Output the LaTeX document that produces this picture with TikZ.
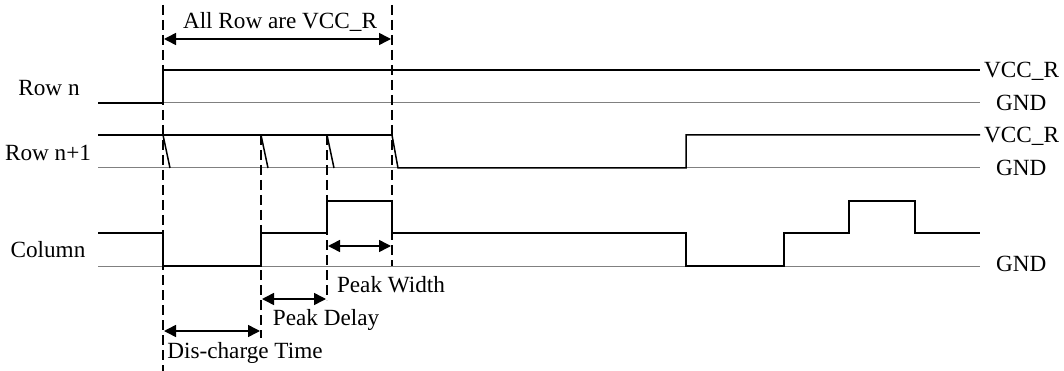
\documentclass[tikz,border=0pt]{standalone}
\usepackage{fontspec}
\setmainfont{Liberation Serif}
\usetikzlibrary{arrows.meta}
\begin{document}
\begin{tikzpicture}[x=1pt,y=-1pt,
  sig/.style={black,line width=1.5pt},
  gnd/.style={gray,line width=1pt},
  guide/.style={black,line width=2pt,dash pattern=on 10pt off 5pt},
  dim/.style={black,line width=1.5pt,{Triangle[length=12pt,width=12pt]}-{Triangle[length=12pt,width=12pt]}},
  lbl/.style={font=\fontsize{23.2}{26}\selectfont,inner sep=0pt}]
\useasboundingbox (0,0) rectangle (1064,371);
% GND reference lines
\draw[gnd] (163,103) -- (980,103);
\draw[gnd] (98,168) -- (980,168);
\draw[gnd] (98,266) -- (980,266);
% Row n
\draw[sig] (98,103) -- (163,103) -- (163,70) -- (980,70);
% Row n+1
\draw[sig] (98,135) -- (392,135);
\draw[sig] (163,135) -- (170,168);
\draw[sig] (261,135) -- (268,168);
\draw[sig] (327,135) -- (334,168);
\draw[sig] (392,135) -- (398,168) -- (686,168) -- (686,135) -- (980,135);
% Column
\draw[sig] (98,233) -- (163,233) -- (163,266) -- (261,266) -- (261,233) -- (327,233) -- (327,201) -- (392,201) -- (392,233) -- (686,233) -- (686,266) -- (784,266) -- (784,233) -- (849,233) -- (849,201) -- (915,201) -- (915,233) -- (980,233);
% guide lines
\coordinate (g1t) at (163,5);   \coordinate (g1b) at (163,371);
\coordinate (g2t) at (261,135); \coordinate (g2b) at (261,338);
\coordinate (g3t) at (327,135); \coordinate (g3b) at (327,300);
\coordinate (g4t) at (392,5);   \coordinate (g4b) at (392,266);
\draw[guide] (g1t) -- (g1b);
\draw[guide] (g2t) -- (g2b);
\draw[guide] (g3t) -- (g3b);
\draw[guide] (g4t) -- (g4b);
% dimension arrows
\draw[dim] (164,39) -- (391,39);
\draw[dim] (328,246) -- (391,246);
\draw[dim] (262,299) -- (326,299);
\draw[dim] (164,331) -- (260,331);
% labels
\node[lbl] (tall) at (280,22) {All Row are VCC\_R};
\node[lbl] (tpw) at (391,285) {Peak Width};
\node[lbl] (tpd) at (326,320) {Peak Delay};
\node[lbl] (tdt) at (245,353) {Dis-charge Time};
\node[lbl] (rown) at (49,88) {Row n};
\node[lbl] (rown1) at (48,153) {Row n+1};
\node[lbl] (col) at (48,250) {Column};
\node[lbl,anchor=west] (v1) at (984,71) {VCC\_R};
\node[lbl,anchor=west] (g1) at (996,103) {GND};
\node[lbl,anchor=west] (v2) at (984,136) {VCC\_R};
\node[lbl,anchor=west] (g2) at (996,168) {GND};
\node[lbl,anchor=west] (g3) at (996,264) {GND};
\end{tikzpicture}
\end{document}
